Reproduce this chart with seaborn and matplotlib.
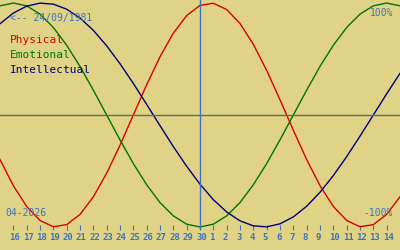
import matplotlib
matplotlib.use("Agg")
import matplotlib.pyplot as plt
import matplotlib.transforms as mtransforms
import pandas as pd
import seaborn as sns

# ---- data ----
day_offsets = [-15, -14, -13, -12, -11, -10, -9, -8, -7, -6, -5, -4, -3, -2, -1, 0,
               1, 2, 3, 4, 5, 6, 7, 8, 9, 10, 11, 12, 13, 14, 15]
physical = [-39.8, -63.1, -81.7, -94.2, -99.8, -97.9, -88.8, -73.1, -52.0, -27.0, 0.0,
            27.0, 52.0, 73.1, 88.8, 97.9, 99.8, 94.2, 81.7, 63.1, 39.8, 13.6, -13.6,
            -39.8, -63.1, -81.7, -94.2, -99.8, -97.9, -88.8, -73.1]
emotional = [97.5, 100.0, 97.5, 90.1, 78.2, 62.3, 43.4, 22.2, 0.0, -22.2, -43.4, -62.3,
             -78.2, -90.1, -97.5, -100.0, -97.5, -90.1, -78.2, -62.3, -43.4, -22.2, 0.0,
             22.2, 43.4, 62.3, 78.2, 90.1, 97.5, 100.0, 97.5]
intellectual = [81.5, 91.0, 97.2, 99.9, 99.0, 94.5, 86.6, 75.6, 61.8, 45.8, 28.2, 9.5,
                -9.5, -28.2, -45.8, -61.8, -75.6, -86.6, -94.5, -99.0, -99.9, -97.2,
                -91.0, -81.5, -69.0, -54.1, -37.2, -18.9, 0.0, 18.9, 37.2]
series_names = ["Physical", "Emotional", "Intellectual"]
series_colors = ["#d80000", "#007400", "#00007a"]

tick_positions = [-14, -13, -12, -11, -10, -9, -8, -7, -6, -5, -4, -3, -2, -1, 0,
                  1, 2, 3, 4, 5, 6, 7, 8, 9, 10, 11, 12, 13, 14]
tick_labels = ["16", "17", "18", "19", "20", "21", "22", "23", "24", "25", "26", "27",
               "28", "29", "30", "1", "2", "3", "4", "5", "6", "7", "8", "9", "10",
               "11", "12", "13", "14"]
birth_text = "<-- 24/09/1981"
month_text = "04-2026"
top_text = "100%"
bottom_text = "-100%"

# ---- styling ----
BG = "#e1d386"
BLUE = "#3b73c4"
plt.rcParams["font.family"] = ["DejaVu Sans Mono", "DejaVu Sans"]

W, H = 400, 250
fig = plt.figure(figsize=(W / 100, H / 100), dpi=100, facecolor=BG)
ax = fig.add_axes([0, 20 / H, 1, 230 / H])
ax.set_facecolor(BG)

df = pd.DataFrame({
    "day": day_offsets * 3,
    "value": physical + emotional + intellectual,
    "series": [series_names[0]] * len(day_offsets)
              + [series_names[1]] * len(day_offsets)
              + [series_names[2]] * len(day_offsets),
})
sns.lineplot(data=df, x="day", y="value", hue="series",
             palette=dict(zip(series_names, series_colors)),
             linewidth=1.0, legend=False, ax=ax, zorder=2)

ax.axhline(0, color="#4f6f85", lw=1.0, zorder=3)
ax.axvline(0, color=BLUE, lw=1.0, zorder=4)

ax.set_xlim(-15, 15)
ax.set_ylim(-102.7, 102.7)
for s in ax.spines.values():
    s.set_visible(False)
ax.set_xlabel("")
ax.set_ylabel("")
ax.set_yticks([])
ax.set_xticks(tick_positions)
ax.set_xticklabels(tick_labels)
ax.tick_params(axis="x", direction="in", length=3.6, width=0.8, color=BLUE,
               labelcolor=BLUE, labelsize=6.5, pad=2.2)
offset = mtransforms.ScaledTranslation(-4 / 100, 0, fig.dpi_scale_trans)
for lab in ax.get_xticklabels():
    lab.set_horizontalalignment("left")
    lab.set_fontweight("bold")
    lab.set_transform(lab.get_transform() + offset)

def ptext(x, y, s, **kw):
    fig.text(x / W, 1 - y / H, s, va="baseline", **kw)

ptext(10, 21, birth_text, color=BLUE, fontsize=7)
for name, col, base in zip(series_names, series_colors, [43, 58, 73]):
    ptext(10, base, name, color=col, fontsize=8)
ptext(393, 16, top_text, color=BLUE, fontsize=7, ha="right")
ptext(393, 216, bottom_text, color=BLUE, fontsize=7, ha="right")
ptext(5, 216, month_text, color=BLUE, fontsize=7)

fig.savefig("out.png", dpi=100, facecolor=BG)
